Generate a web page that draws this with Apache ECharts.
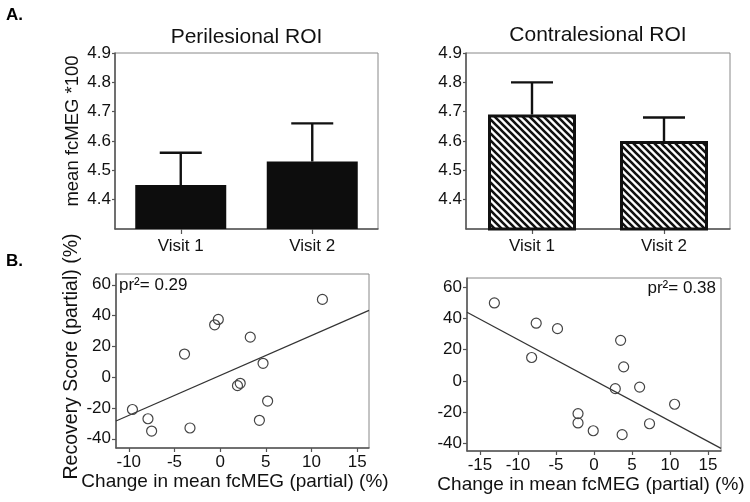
<!DOCTYPE html>
<html>
<head>
<meta charset="utf-8">
<script src="https://cdn.jsdelivr.net/npm/echarts@6/dist/echarts.min.js"></script>
<style>html,body{margin:0;padding:0;background:#fff}#c{width:750px;height:502px}</style>
</head>
<body>
<div id="c"></div>
<script>
// ---- data ----
const visits = ['Visit 1', 'Visit 2'];
const periMean = [4.45, 4.53];
const periUpper = [4.56, 4.66];
const contraMean = [4.69, 4.60];
const contraUpper = [4.80, 4.68];

const periChange = [11.2, -0.2, -0.6, 3.3, -3.9, 4.7, 1.9, 2.2, 5.2, -9.6, -7.9, -7.5, -3.3, 4.3];
const periRecovery = [50.5, 37.5, 34, 26, 15, 9, -5.5, -4, -15.5, -21, -27, -35, -33, -28];
const contraChange = [-13.1, -7.6, -4.8, 3.5, -8.2, 3.9, 2.8, 6.0, 10.6, -2.1, -2.1, -0.1, 3.7, 7.3];
const contraRecovery = [50, 37, 33.5, 26, 15, 9, -5, -4, -15, -21, -27, -32, -34.5, -27.5];
const periFitX = [-11.4, 16.3];
const periFitY = [-28.5, 43.4];
const contraFitX = [-16.7, 16.7];
const contraFitY = [44, -43.3];
const periXTicks = [-10, -5, 0, 5, 10, 15];
const contraXTicks = [-15, -10, -5, 0, 5, 10, 15];
const scatterYTicks = [-40, -20, 0, 20, 40, 60];

// ---- styles ----
const FF = 'Liberation Sans, Arial, sans-serif';
const TXT = '#111';
const AX = '#555';

function hatch() {
  const P = 7;
  const c = document.createElement('canvas');
  c.width = P; c.height = P;
  const g = c.getContext('2d');
  g.fillStyle = '#fff'; g.fillRect(0, 0, P, P);
  g.strokeStyle = '#111'; g.lineWidth = 2.6;
  g.beginPath();
  for (const k of [-P, 0, P]) { g.moveTo(k - 1, -1); g.lineTo(k + P + 1, P + 1); }
  g.stroke();
  return c;
}

const chart = echarts.init(document.getElementById('c'));

function barYAxis(gi, name) {
  return {
    type: 'value', gridIndex: gi, min: 4.3, max: 4.9, interval: 0.1,
    splitLine: {show: false},
    axisLine: {show: true, lineStyle: {color: AX, width: 1.5}},
    axisTick: {show: true, length: 3, lineStyle: {color: AX, width: 1.2}},
    axisLabel: {showMinLabel: false, margin: 4, color: TXT, fontSize: 17, fontFamily: FF,
      formatter: v => v.toFixed(1)},
    name: name || '', nameLocation: 'middle', nameGap: 33, nameRotate: 90,
    nameTextStyle: {fontSize: 18.5, color: TXT, fontFamily: FF, padding: [0, 0, 0, 20]}
  };
}
function barXAxis(gi) {
  return {
    type: 'category', gridIndex: gi, data: visits,
    axisLine: {show: true, lineStyle: {color: AX, width: 1.5}},
    axisTick: {show: true, alignWithLabel: true, length: 5, lineStyle: {color: AX, width: 1.2}},
    axisLabel: {margin: 9, color: TXT, fontSize: 17, fontFamily: FF}
  };
}
function scX(gi, min, max, ticks, namePad) {
  return {
    type: 'value', gridIndex: gi, min: min, max: max,
    splitLine: {show: false},
    axisLine: {show: true, onZero: false, lineStyle: {color: AX, width: 1.5}},
    axisTick: {show: true, length: 4, customValues: ticks, lineStyle: {color: AX, width: 1.2}},
    axisLabel: {margin: 6, color: TXT, fontSize: 17, fontFamily: FF, customValues: ticks},
    name: 'Change in mean fcMEG (partial) (%)', nameLocation: 'middle', nameGap: 19,
    nameTextStyle: {fontSize: 19, color: TXT, fontFamily: FF, padding: namePad}
  };
}
function scY(gi, min, max, name) {
  return {
    type: 'value', gridIndex: gi, min: min, max: max,
    splitLine: {show: false},
    axisLine: {show: true, onZero: false, lineStyle: {color: AX, width: 1.5}},
    axisTick: {show: true, length: 4, customValues: scatterYTicks, lineStyle: {color: AX, width: 1.2}},
    axisLabel: {margin: 5, color: TXT, fontSize: 17, fontFamily: FF, customValues: scatterYTicks},
    name: name || '', nameLocation: 'middle', nameGap: 34, nameRotate: 90,
    nameTextStyle: {fontSize: 19.5, color: TXT, fontFamily: FF, padding: [0, 0, 0, 9]}
  };
}

function errSeries(xi, yi, means, uppers) {
  return {
    type: 'custom', xAxisIndex: xi, yAxisIndex: yi, z: 3,
    data: means.map((m, i) => [i, m, uppers[i]]),
    renderItem: function (params, api) {
      const base = api.coord([api.value(0), api.value(1)]);
      const top = api.coord([api.value(0), api.value(2)]);
      const half = 21;
      const st = {stroke: '#111', lineWidth: 2.4};
      return {type: 'group', children: [
        {type: 'line', shape: {x1: base[0], y1: base[1], x2: top[0], y2: top[1]}, style: st},
        {type: 'line', shape: {x1: top[0] - half, y1: top[1], x2: top[0] + half, y2: top[1]}, style: st}
      ]};
    }
  };
}

function scatterSeries(xi, xs, ys) {
  return {
    type: 'scatter', xAxisIndex: xi, yAxisIndex: xi, z: 4,
    symbol: 'circle', symbolSize: 10,
    data: xs.map((x, i) => [x, ys[i]]),
    itemStyle: {color: 'rgba(255,255,255,0)', borderColor: '#444', borderWidth: 1.2, opacity: 1}
  };
}

const gridBorder = {show: true, borderColor: '#888', borderWidth: 1, backgroundColor: 'transparent'};

const option = {
  backgroundColor: '#fff',
  animation: false,
  grid: [
    Object.assign({left: 115, top: 53, width: 263, height: 176}, gridBorder),
    Object.assign({left: 466, top: 53, width: 264, height: 176}, gridBorder),
    Object.assign({left: 116, top: 274, width: 253, height: 174}, gridBorder),
    Object.assign({left: 467, top: 278, width: 254, height: 173}, gridBorder)
  ],
  xAxis: [
    barXAxis(0), barXAxis(1),
    scX(2, -11.4, 16.3, periXTicks, [0, 15, 0, 0]),
    scX(3, -16.7, 16.7, contraXTicks, [0, 6, 0, 0])
  ],
  yAxis: [
    barYAxis(0, 'mean fcMEG *100'), barYAxis(1, ''),
    scY(2, -46, 67, 'Recovery Score (partial) (%)'),
    scY(3, -45, 66, '')
  ],
  series: [
    {type: 'bar', xAxisIndex: 0, yAxisIndex: 0, data: periMean, barWidth: 91,
      itemStyle: {color: '#0d0d0d'}},
    errSeries(0, 0, periMean, periUpper),
    {type: 'bar', xAxisIndex: 1, yAxisIndex: 1, data: contraMean, barWidth: 88,
      itemStyle: {color: {image: hatch(), repeat: 'repeat'}, borderColor: '#111', borderWidth: 3}},
    errSeries(1, 1, contraMean, contraUpper),
    scatterSeries(2, periChange, periRecovery),
    {type: 'line', xAxisIndex: 2, yAxisIndex: 2, showSymbol: false, symbol: 'none',
      data: periFitX.map((x, i) => [x, periFitY[i]]),
      lineStyle: {color: '#333', width: 1.2}},
    scatterSeries(3, contraChange, contraRecovery),
    {type: 'line', xAxisIndex: 3, yAxisIndex: 3, showSymbol: false, symbol: 'none',
      data: contraFitX.map((x, i) => [x, contraFitY[i]]),
      lineStyle: {color: '#333', width: 1.2}}
  ],
  graphic: [
    {type: 'text', x: 6, y: 15, style: {text: 'A.', font: '900 17px ' + FF, fill: '#000', align: 'left', verticalAlign: 'middle'}},
    {type: 'text', x: 6, y: 261, style: {text: 'B.', font: '900 17px ' + FF, fill: '#000', align: 'left', verticalAlign: 'middle'}},
    {type: 'text', x: 246.5, y: 37, style: {text: 'Perilesional ROI', font: '21px ' + FF, fill: TXT, align: 'center', verticalAlign: 'middle'}},
    {type: 'text', x: 598, y: 35, style: {text: 'Contralesional ROI', font: '21px ' + FF, fill: TXT, align: 'center', verticalAlign: 'middle'}},
    {type: 'text', x: 119, y: 285, style: {text: 'pr\u00b2= 0.29', font: '17px ' + FF, fill: TXT, align: 'left', verticalAlign: 'middle'}},
    {type: 'text', x: 716, y: 288, style: {text: 'pr\u00b2= 0.38', font: '17px ' + FF, fill: TXT, align: 'right', verticalAlign: 'middle'}}
  ]
};
chart.setOption(option);
</script>
</body>
</html>
